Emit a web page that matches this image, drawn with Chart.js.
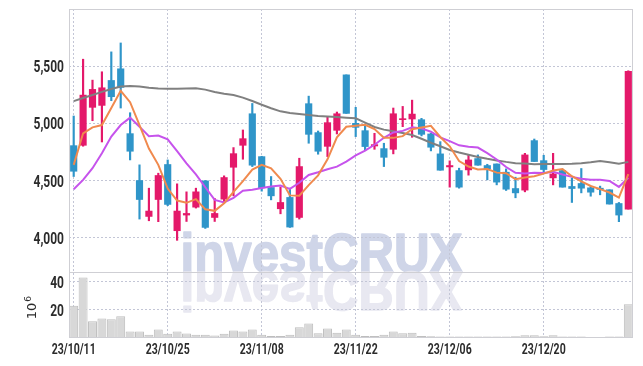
<!DOCTYPE html>
<html>
<head>
<meta charset="utf-8">
<script src="https://cdn.jsdelivr.net/npm/chart.js@4.4.1/dist/chart.umd.min.js"></script>
<style>
  html, body { margin: 0; background: #fff; }
  canvas { display: block; }
</style>
</head>
<body>
<canvas id="c" width="643" height="366"></canvas>
<script>
// ---------- data ----------
const dates = [
  '23/10/11','23/10/12','23/10/13','23/10/16','23/10/17','23/10/18','23/10/19','23/10/20','23/10/23','23/10/24',
  '23/10/25','23/10/26','23/10/27','23/10/30','23/10/31','23/11/01','23/11/02','23/11/03','23/11/06','23/11/07',
  '23/11/08','23/11/09','23/11/10','23/11/13','23/11/14','23/11/15','23/11/16','23/11/17','23/11/20','23/11/21',
  '23/11/22','23/11/23','23/11/24','23/11/27','23/11/28','23/11/29','23/11/30','23/12/01','23/12/04','23/12/05',
  '23/12/06','23/12/07','23/12/08','23/12/11','23/12/12','23/12/13','23/12/14','23/12/15','23/12/18','23/12/19',
  '23/12/20','23/12/21','23/12/22','23/12/26','23/12/27','23/12/28','24/01/02','24/01/03','24/01/04','24/01/05'
];
const tickLabels = ['23/10/11','23/10/25','23/11/08','23/11/22','23/12/06','23/12/20'];

const open  = [4805,4808,5140,5157,5375,5477,4910,4500,4186,4334, 4640,4061,4198,4267,4497,4177,4337,4616,4808,5084,
               4709,4439,4253,4352,4177,5172,4919,4799,4939,5424, 5000,4936,4802,4779,4773,5032,5038,5032,4907,4733,
               4619,4587,4593,4692,4631,4645,4573,4430,4416,4849, 4674,4523,4587,4448,4474,4436,4433,4419,4299,4250];
const high  = [5064,5561,5378,5451,5625,5703,5093,4637,4433,4564, 4680,4471,4401,4433,4500,4343,4541,4788,4942,5174,
               4712,4535,4442,4433,4695,5238,4933,5058,5099,5424, 5140,4994,4913,4826,5134,5148,5203,5044,4913,4840,
               4672,4608,4724,4724,4642,4645,4602,4529,4738,4863, 4721,4738,4599,4520,4605,4451,4451,4419,4308,5460];
const low   = [4535,4800,5023,4837,5198,5134,4680,4163,4148,4140, 4280,3977,4142,4259,4081,4142,4302,4366,4686,4622,
               4407,4331,4209,4090,4163,4826,4730,4709,4907,5087, 4884,4767,4773,4622,4733,4971,4878,4890,4759,4590,
               4442,4433,4547,4634,4506,4462,4413,4349,4401,4666, 4570,4462,4442,4308,4392,4363,4375,4294,4140,4250];
const close = [4581,5247,5297,5311,5233,5314,4756,4334,4233,4544, 4291,4233,4212,4401,4090,4212,4526,4735,4866,4634,
               4436,4366,4308,4093,4622,4904,4756,5006,5084,5087, 4965,4797,4814,4703,5084,5041,5081,4904,4791,4590,
               4631,4442,4680,4634,4602,4486,4424,4392,4724,4666, 4596,4558,4442,4430,4433,4398,4422,4294,4198,5455];

const ma5  = [4637,4913,4965,4985,5135,5285,5185,4985,4780,4637, 4430,4325,4305,4337,4248,4235,4300,4400,4495,4595,
              4638,4607,4515,4370,4367,4460,4545,4685,4878,4970, 4980,4988,4950,4875,4873,4888,4948,4963,4978,4881,
              4799,4670,4622,4597,4600,4569,4564,4512,4526,4538, 4560,4588,4600,4538,4492,4452,4425,4395,4350,4556];
const ma10 = [4424,4506,4608,4738,4884,4985,5050,4971,4888,4893, 4860,4757,4650,4553,4441,4331,4308,4348,4411,4420,
              4435,4448,4457,4427,4480,4549,4572,4599,4621,4666, 4719,4762,4813,4874,4920,4934,4966,4956,4927,4877,
              4844,4808,4795,4788,4740,4684,4618,4567,4561,4568, 4565,4576,4552,4532,4515,4506,4506,4496,4444,4524];
const ma60 = [5194,5222,5248,5275,5300,5322,5326,5322,5312,5305, 5302,5302,5304,5306,5295,5275,5258,5247,5225,5195,
              5163,5132,5105,5090,5082,5072,5065,5060,5055,5050, 5044,5006,4968,4945,4930,4915,4898,4865,4830,4800,
              4767,4745,4725,4706,4690,4676,4663,4652,4648,4643, 4644,4645,4645,4647,4652,4660,4670,4660,4646,4663];

// volume, in millions
const volume = [22.9,43.1,11.9,13.9,13.4,15.5,4.6,4.6,2.4,6.0, 3.1,4.6,3.2,2.3,2.3,1.8,3.0,5.3,4.6,6.0,
                2.3,1.5,1.5,2.3,7.6,10.4,3.3,6.8,3.8,6.0, 2.3,1.5,1.5,2.3,4.6,3.3,3.8,1.5,1.2,1.0,
                1.0,1.0,1.0,1.0,1.0,1.0,1.0,1.2,2.0,2.0, 1.2,2.0,1.0,1.0,1.0,0.8,0.8,1.0,1.0,24.1];

const priceTicks = [4000, 4500, 5000, 5500];
const volTicks = [20, 40];

// ---------- style ----------
const UP = '#e4196a', DOWN = '#2f95c9';
const GRID = '#c3c6d6';
const LABEL_FONT = "Roboto, 'Liberation Sans', sans-serif";
const candleCol = open.map((o, i) => close[i] >= o ? UP : DOWN);
const showTick = i => tickLabels.includes(dates[i]);

// watermark + reflection, behind everything
const watermark = {
  id: 'watermark',
  beforeDraw(chart) {
    const ctx = chart.ctx, base = chart.scales.y.bottom;
    const cx = chart.width / 2, W = 282;
    ctx.save();
    ctx.font = "bold 56px 'Liberation Sans', Arial, sans-serif";
    ctx.textAlign = 'center';
    ctx.textBaseline = 'alphabetic';
    ctx.lineJoin = 'round';
    ctx.lineWidth = 1.6;
    const sx = W / ctx.measureText('investCRUX').width;
    ctx.translate(cx, base);
    ctx.scale(sx, 1);
    ctx.fillStyle = ctx.strokeStyle = '#cfd5e8';
    ctx.fillText('investCRUX', 0, 0);
    ctx.strokeText('investCRUX', 0, 0);
    ctx.scale(1, -1);
    ctx.fillStyle = ctx.strokeStyle = '#e8e8f1';
    ctx.fillText('investCRUX', 0, 0);
    ctx.strokeText('investCRUX', 0, 0);
    ctx.restore();
  }
};

// condensed tick labels (no condensed face installed -> squeeze horizontally)
function squeezed(ctx, text, px, py, align, sx) {
  ctx.save();
  ctx.translate(px, py);
  ctx.scale(sx, 1);
  ctx.textAlign = align;
  ctx.fillText(text, 0, 0);
  ctx.restore();
}

const frame = {
  id: 'frame',
  afterDraw(chart) {
    const ctx = chart.ctx, a = chart.chartArea, sep = chart.scales.y.bottom;
    const { x, y, yv } = chart.scales;
    ctx.save();
    ctx.strokeStyle = '#cfcfd4';
    ctx.lineWidth = 1;
    ctx.strokeRect(Math.round(a.left) + 0.5, Math.round(a.top) + 0.5,
                   Math.round(a.right - a.left) - 1, Math.round(a.bottom - a.top) - 1);
    ctx.beginPath();
    ctx.moveTo(a.left, Math.round(sep) + 0.5);
    ctx.lineTo(a.right, Math.round(sep) + 0.5);
    ctx.stroke();

    // tick labels
    ctx.fillStyle = '#2b2b2b';
    ctx.textBaseline = 'alphabetic';
    ctx.font = 'bold 16px ' + LABEL_FONT;
    priceTicks.forEach(v => squeezed(ctx, v.toLocaleString('en-US'), 64, y.getPixelForValue(v) + 6, 'right', 0.75));
    volTicks.forEach(v => squeezed(ctx, String(v), 64, yv.getPixelForValue(v) + 6, 'right', 0.75));
    ctx.font = 'bold 15px ' + LABEL_FONT;
    dates.forEach((d, i) => { if (showTick(i)) squeezed(ctx, d, x.getPixelForValue(i), 354, 'center', 0.7); });

    // 10^6 unit
    ctx.translate(33, (yv.top + yv.bottom) / 2 + 1);
    ctx.rotate(-Math.PI / 2);
    ctx.textAlign = 'center';
    ctx.textBaseline = 'middle';
    ctx.font = "13px 'DejaVu Sans', sans-serif";
    ctx.fillText('10', -5, 0);
    ctx.font = "9px 'DejaVu Sans', sans-serif";
    ctx.fillText('6', 7, -4);
    ctx.restore();
  }
};

new Chart(document.getElementById('c'), {
  data: {
    labels: dates,
    datasets: [
      { type: 'line', label: 'MA5', data: ma5, yAxisID: 'y', borderColor: '#f08a4e', borderWidth: 2,
        pointRadius: 0, tension: 0, order: 0 },
      { type: 'line', label: 'MA10', data: ma10, yAxisID: 'y', borderColor: '#c653ec', borderWidth: 2,
        pointRadius: 0, tension: 0, order: 0 },
      { type: 'line', label: 'MA60', data: ma60, yAxisID: 'y', borderColor: '#808080', borderWidth: 2,
        pointRadius: 0, tension: 0, order: 0 },
      { type: 'bar', label: 'body', data: open.map((o, i) => [o, close[i]]), yAxisID: 'y',
        backgroundColor: candleCol, barThickness: 6.5, grouped: false, order: 1 },
      { type: 'bar', label: 'wick', data: low.map((l, i) => [l, high[i]]), yAxisID: 'y',
        backgroundColor: candleCol, barThickness: 1.5, grouped: false, order: 2 },
      { type: 'bar', label: 'volume', data: volume, yAxisID: 'yv',
        backgroundColor: '#d8d8d8', borderColor: '#bdbdbd', borderWidth: 1,
        barPercentage: 0.95, categoryPercentage: 1, grouped: false, order: 3 }
    ]
  },
  options: {
    responsive: false,
    animation: false,
    devicePixelRatio: 1,
    layout: { padding: { top: 9, right: 10, left: 0, bottom: 0 } },
    plugins: { legend: { display: false }, tooltip: { enabled: false } },
    scales: {
      x: {
        type: 'category', offset: true,
        afterFit: s => { s.height = 28; },
        grid: { offset: false, drawTicks: false, color: c => showTick(c.index) ? GRID : 'rgba(0,0,0,0)' },
        border: { display: false, dash: [2, 2] },
        ticks: { display: false, autoSkip: false }
      },
      // volume first: in a left-hand stack the later scale sits on top
      yv: {
        position: 'left', stack: 'p', stackWeight: 66, min: 0, max: 47,
        afterBuildTicks: s => { s.ticks = volTicks.map(v => ({ value: v })); },
        afterFit: s => { s.width = 69; },
        grid: { drawTicks: false, color: GRID },
        border: { display: false, dash: [2, 2] },
        ticks: { display: false }
      },
      y: {
        position: 'left', stack: 'p', stackWeight: 263, min: 3700, max: 6000,
        afterBuildTicks: s => { s.ticks = priceTicks.map(v => ({ value: v })); },
        afterFit: s => { s.width = 69; },
        grid: { drawTicks: false, color: GRID },
        border: { display: false, dash: [2, 2] },
        ticks: { display: false }
      }
    }
  },
  plugins: [watermark, frame]
});
</script>
</body>
</html>
